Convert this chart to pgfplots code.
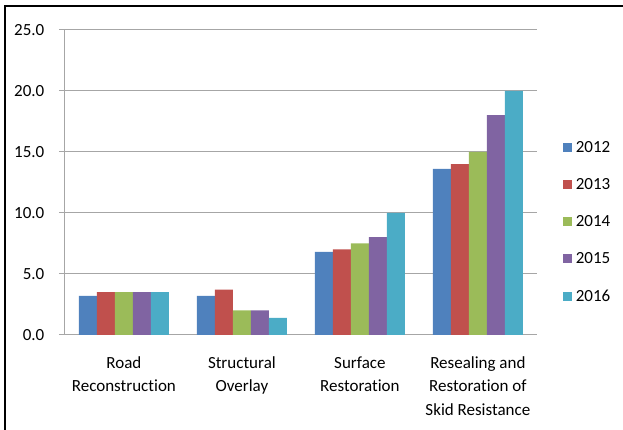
\documentclass[border=0pt]{standalone}
\usepackage{pgfplots}
\pgfplotsset{compat=1.18}
\usepackage{fontspec}
\setmainfont{Carlito}[Ligatures=NoCommon]
\definecolor{c12}{HTML}{4F81BD}
\definecolor{c13}{HTML}{C0504D}
\definecolor{c14}{HTML}{9BBB59}
\definecolor{c15}{HTML}{8064A2}
\definecolor{c16}{HTML}{4BACC6}
\definecolor{gridc}{HTML}{A6A6A6}
\begin{document}
\begin{tikzpicture}[x=1pt,y=1pt]
\path[use as bounding box] (0,0) rectangle (623,430);
\draw[line width=2.2pt] (5,0) -- (5,424) -- (623,424);
\begin{axis}[
  at={(55,78)}, anchor=south west,
  width=472pt, height=305pt, scale only axis,
  ybar=0pt, bar width=18pt,
  xmin=-0.5, xmax=3.5, ymin=0, ymax=25,
  axis x line*=bottom, axis y line*=left,
  axis line style={gridc, line width=0.8pt},
  x axis line style={-}, y axis line style={-},
  ytick={0,5,10,15,20,25},
  yticklabel={\pgfmathprintnumber[fixed,fixed zerofill,precision=1]{\tick}},
  /pgf/number format/assume math mode=true,
  ymajorgrids, grid style={gridc, line width=0.8pt},
  major tick length=6pt,
  tick style={gridc, line width=0.8pt},
  tick align=outside,
  ytick style={gridc},
  xtick={0,1,2,3},
  xticklabels={Road\\Reconstruction, Structural\\Overlay, Surface\\Restoration, Resealing and\\Restoration of\\Skid Resistance},
  xtick style={draw=none},
  extra x ticks={-0.5,0.5,1.5,2.5,3.5},
  extra x tick labels={},
  extra x tick style={tick style={gridc, line width=0.8pt, draw=gridc}, major tick length=7pt, grid=none},
  xticklabel style={align=center, font=\fontsize{17}{23.5}\selectfont, yshift=-12pt},
  yticklabel style={font=\fontsize{17}{20}\selectfont, xshift=-11pt},
  legend style={draw=none, at={(1.048,0.37)}, anchor=west, font=\fontsize{17}{20}\selectfont, row sep=20.5pt, legend cell align=left, nodes={inner xsep=4pt}},
  legend image code/.code={\fill[#1] (0pt,-4.5pt) rectangle (9pt,4.5pt);},
]
\addplot[fill=c12, draw=none] coordinates {(0,3.2) (1,3.2) (2,6.8) (3,13.6)};
\addplot[fill=c13, draw=none] coordinates {(0,3.5) (1,3.7) (2,7.0) (3,14.0)};
\addplot[fill=c14, draw=none] coordinates {(0,3.5) (1,2.0) (2,7.5) (3,15.0)};
\addplot[fill=c15, draw=none] coordinates {(0,3.5) (1,2.0) (2,8.0) (3,18.0)};
\addplot[fill=c16, draw=none] coordinates {(0,3.5) (1,1.4) (2,10.0) (3,20.0)};
\legend{2012,2013,2014,2015,2016}
\end{axis}
\end{tikzpicture}
\end{document}
